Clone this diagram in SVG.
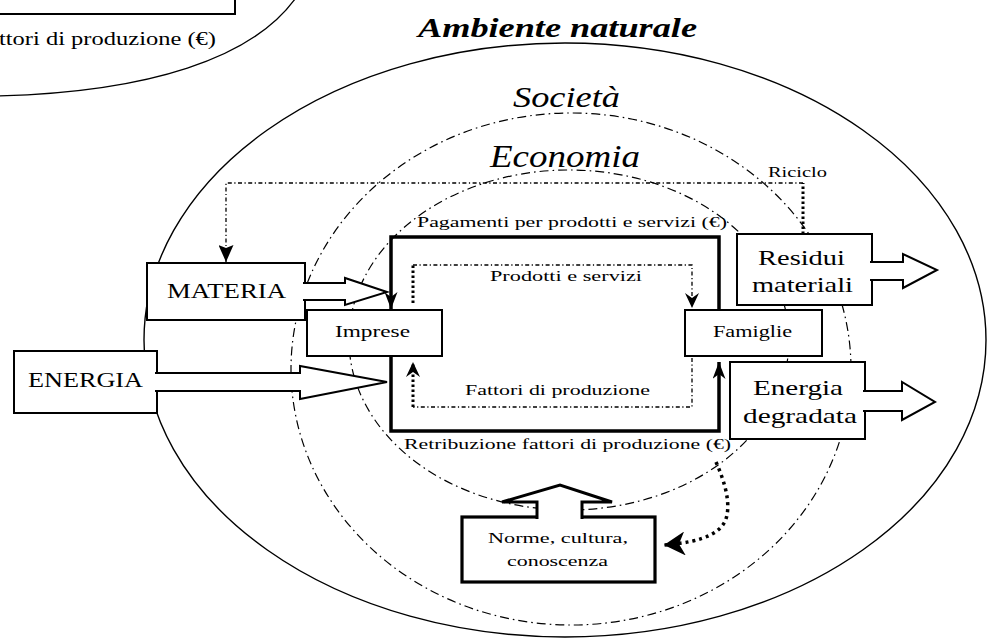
<svg xmlns="http://www.w3.org/2000/svg" width="988" height="639" viewBox="0 0 988 639">
<style>
 .box{fill:#fff;stroke:#000;stroke-width:2}
 .nbox{fill:#fff;stroke:#000;stroke-width:3.2}
 .blk{fill:#fff;stroke:#000;stroke-width:2;stroke-linejoin:miter}
 .nblk{fill:#fff;stroke:#000;stroke-width:3;stroke-linejoin:miter}
 .t{font-family:"Liberation Serif","DejaVu Serif",serif;fill:#000}
 .it{font-family:"Liberation Serif","DejaVu Serif",serif;font-style:italic;fill:#000}
 .thick{fill:none;stroke:#000;stroke-width:3.5}
 .dd{fill:none;stroke:#000;stroke-width:1.3;stroke-dasharray:4 2.5 1.2 2.5}
 .hd{fill:none;stroke:#000;stroke-width:3;stroke-dasharray:2.5 2.5}
 .hd2{fill:none;stroke:#000;stroke-width:3.5;stroke-dasharray:3 4}
 .ell{fill:none;stroke:#000;stroke-width:1.2;stroke-dasharray:9 4 1.6 4}
 .out{fill:none;stroke:#000;stroke-width:1.4}
</style>
<defs>
 <marker id="barb" viewBox="0 0 17 13" refX="17" refY="6.5" markerWidth="17" markerHeight="13" markerUnits="userSpaceOnUse" orient="auto">
  <path d="M0,0 L17,6.5 L0,13 L5,6.5 z" fill="#000"/>
 </marker>
 <marker id="barb2" viewBox="0 0 15 14" refX="15" refY="7" markerWidth="15" markerHeight="14" markerUnits="userSpaceOnUse" orient="auto">
  <path d="M0,0 L15,7 L0,14 L5,7 z" fill="#000"/>
 </marker>
 <marker id="tri" viewBox="0 0 17 15" refX="17" refY="7.5" markerWidth="17" markerHeight="15" markerUnits="userSpaceOnUse" orient="auto">
  <path d="M0,0 L17,7.5 L0,15 L3,7.5 z" fill="#000"/>
 </marker>
 <marker id="open" viewBox="0 0 21 24" refX="21" refY="12" markerWidth="21" markerHeight="24" markerUnits="userSpaceOnUse" orient="auto">
  <path d="M0,0 L21,12 L0,24 L6,12 z" fill="#000"/>
 </marker>
</defs>

<!-- cropped fragment at top-left -->
<g id="fragment">
 <path d="M295,-1 C252,58 150,92 -2,96" fill="none" stroke="#000" stroke-width="1.3"/>
 <path d="M-2,14 H235 V-2" fill="none" stroke="#000" stroke-width="2"/>
 <text class="t" x="-1" y="45" font-size="18" textLength="217" lengthAdjust="spacingAndGlyphs">ttori di produzione (€)</text>
</g>

<!-- nested spheres -->
<g id="ambiente">
 <ellipse class="out" cx="565" cy="340" rx="421" ry="297"/>
 <text class="it" x="418" y="37" font-size="28" font-weight="bold" textLength="279" lengthAdjust="spacingAndGlyphs">Ambiente naturale</text>
</g>
<g id="societa">
 <ellipse class="ell" cx="571" cy="369" rx="280" ry="256"/>
 <text class="it" x="513" y="107" font-size="29" textLength="107" lengthAdjust="spacingAndGlyphs">Società</text>
</g>
<g id="economia">
 <ellipse class="ell" cx="569" cy="340" rx="220" ry="170"/>
 <text class="it" x="490" y="167" font-size="32" textLength="150" lengthAdjust="spacingAndGlyphs">Economia</text>
</g>

<!-- connectors -->
<g id="connectors">
 <!-- Pagamenti per prodotti e servizi -->
 <path class="thick" d="M719,311 V237 H391 V309" marker-end="url(#barb)"/>
 <!-- Retribuzione fattori di produzione -->
 <path class="thick" d="M391,355 V431 H719 V362" marker-end="url(#barb)"/>
 <!-- Prodotti e servizi -->
 <path class="hd" d="M413,303 V265"/>
 <path class="dd" d="M413,265 H692 V308" marker-end="url(#barb2)"/>
 <!-- Fattori di produzione -->
 <path class="dd" d="M692,358 V407 H413"/>
 <path class="hd" d="M413,407 V362" marker-end="url(#barb2)"/>
 <!-- Riciclo -->
 <path class="hd" d="M803,234 V183"/>
 <path class="dd" d="M803,183 H226 V262" marker-end="url(#tri)"/>
 <!-- Retroazione verso norme -->
 <path class="hd2" d="M716,462 C724,480 730,500 727,515 C724,532 705,542 664,545" marker-end="url(#open)"/>
</g>

<g id="lbl-pagamenti"><text class="t" x="417" y="227" font-size="15" textLength="310" lengthAdjust="spacingAndGlyphs">Pagamenti per prodotti e servizi (€)</text></g>
<g id="lbl-prodotti"><text class="t" x="490" y="281" font-size="15" textLength="152" lengthAdjust="spacingAndGlyphs">Prodotti e servizi</text></g>
<g id="lbl-fattori"><text class="t" x="465" y="395" font-size="15" textLength="185" lengthAdjust="spacingAndGlyphs">Fattori di produzione</text></g>
<g id="lbl-retribuzione"><text class="t" x="404" y="449" font-size="15" textLength="327" lengthAdjust="spacingAndGlyphs">Retribuzione fattori di produzione (€)</text></g>
<g id="lbl-riciclo"><text class="t" x="768" y="177" font-size="14" textLength="59" lengthAdjust="spacingAndGlyphs">Riciclo</text></g>

<!-- nodes -->
<g id="materia">
 <rect class="box" x="147" y="263" width="158" height="57"/>
 <path class="blk" d="M303,283 H345 V278 L387,292 L345,305 V300 H303"/>
 <text class="t" x="167" y="298" font-size="22" textLength="119" lengthAdjust="spacingAndGlyphs">MATERIA</text>
</g>
<g id="energia">
 <rect class="box" x="14" y="351" width="143" height="62"/>
 <path class="blk" d="M155,373 H300 V366 L387,382 L300,399 V391 H155"/>
 <text class="t" x="28" y="387" font-size="22" textLength="115" lengthAdjust="spacingAndGlyphs">ENERGIA</text>
</g>
<g id="imprese">
 <rect class="box" x="307" y="310" width="135" height="46"/>
 <text class="t" x="335" y="337" font-size="16" textLength="75" lengthAdjust="spacingAndGlyphs">Imprese</text>
</g>
<g id="famiglie">
 <rect class="box" x="685" y="310" width="137" height="46"/>
 <text class="t" x="713" y="337" font-size="16" textLength="79" lengthAdjust="spacingAndGlyphs">Famiglie</text>
</g>
<g id="residui">
 <rect class="box" x="737" y="234" width="135" height="71"/>
 <path class="blk" d="M870,262 H903 V254 L937,270 L903,288 V280 H870"/>
 <text class="t" x="758" y="265" font-size="21" textLength="87" lengthAdjust="spacingAndGlyphs">Residui</text>
 <text class="t" x="752" y="292" font-size="21" textLength="101" lengthAdjust="spacingAndGlyphs">materiali</text>
</g>
<g id="energia-degradata">
 <rect class="box" x="730" y="362" width="135" height="77"/>
 <path class="blk" d="M863,391 H902 V382 L935,402 L902,420 V411 H863"/>
 <text class="t" x="753" y="395" font-size="21" textLength="90" lengthAdjust="spacingAndGlyphs">Energia</text>
 <text class="t" x="743" y="423" font-size="21" textLength="114" lengthAdjust="spacingAndGlyphs">degradata</text>
</g>
<g id="norme">
 <rect class="nbox" x="462" y="517" width="193" height="65"/>
 <path class="nblk" d="M537,519 V502 H502 L560,485 L612,502 H582 V519"/>
 <text class="t" x="488" y="543" font-size="15" textLength="140" lengthAdjust="spacingAndGlyphs">Norme, cultura,</text>
 <text class="t" x="507" y="566" font-size="15" textLength="101" lengthAdjust="spacingAndGlyphs">conoscenza</text>
</g>
</svg>
